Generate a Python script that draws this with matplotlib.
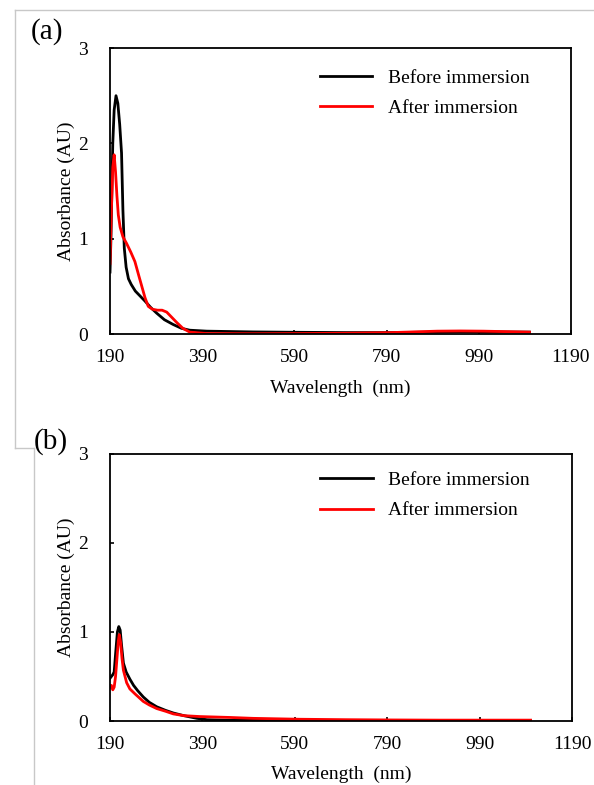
import matplotlib
matplotlib.use("Agg")
import matplotlib.pyplot as plt
from matplotlib.lines import Line2D

plt.rcParams['font.family'] = ['Liberation Serif', 'DejaVu Serif']

# panel (a)
wl_a_before = [190, 192, 196, 199, 203, 207, 211, 215, 218, 221, 225, 230, 236, 245, 255, 265, 278, 291, 308,
               327, 345, 363, 400, 500, 600, 700, 800, 900, 950, 1000, 1100]
abs_a_before = [0.65, 1.0, 2.0, 2.35, 2.5, 2.42, 2.2, 1.9, 1.3, 0.9, 0.7, 0.58, 0.52, 0.45, 0.4, 0.35, 0.28,
                0.22, 0.15, 0.1, 0.06, 0.04, 0.03, 0.022, 0.018, 0.015, 0.015, 0.02, 0.025, 0.022, 0.02]
wl_a_after = [190, 193, 196, 199, 202, 205, 208, 212, 218, 226, 235, 244, 252, 259, 266, 273, 282, 293, 303,
              313, 323, 335, 348, 363, 400, 500, 600, 700, 800, 900, 950, 1000, 1050, 1100]
abs_a_after = [0.74, 1.3, 1.75, 1.88, 1.7, 1.45, 1.25, 1.12, 1.02, 0.95, 0.86, 0.76, 0.62, 0.5, 0.38, 0.29,
               0.26, 0.25, 0.25, 0.23, 0.18, 0.12, 0.06, 0.02, 0.005, 0.003, 0.005, 0.008, 0.015, 0.03,
               0.032, 0.03, 0.025, 0.02]

# panel (b)
wl_b_before = [190, 193, 196, 199, 202, 206, 209, 212, 215, 219, 225, 233, 241, 250, 262, 275, 291, 310, 327,
               350, 378, 400, 450, 600, 800, 1100]
abs_b_before = [0.48, 0.5, 0.52, 0.55, 0.75, 1.0, 1.06, 1.02, 0.85, 0.65, 0.55, 0.47, 0.4, 0.34, 0.27, 0.21,
                0.16, 0.12, 0.09, 0.06, 0.03, 0.015, 0.008, 0.005, 0.004, 0.004]
wl_b_after = [190, 193, 196, 199, 202, 205, 208, 210, 213, 216, 219, 226, 233, 245, 262, 275, 291, 310, 327,
              350, 385, 450, 500, 600, 700, 800, 900, 1000, 1100]
abs_b_after = [0.38, 0.4, 0.35, 0.38, 0.5, 0.7, 0.9, 0.97, 0.88, 0.7, 0.57, 0.43, 0.36, 0.3, 0.22, 0.18, 0.14,
               0.11, 0.08, 0.06, 0.05, 0.04, 0.03, 0.02, 0.015, 0.012, 0.01, 0.01, 0.01]

xticks = [190, 390, 590, 790, 990, 1190]
yticks = [0, 1, 2, 3]

fig = plt.figure(figsize=(5.94, 7.85), dpi=100)

panels = [
    ([0.1852, 0.5745, 0.776, 0.3643], 0.927, 10, wl_a_before, abs_a_before, wl_a_after, abs_a_after),
    ([0.1852, 0.0815, 0.778, 0.3405], 0.933, 9, wl_b_before, abs_b_before, wl_b_after, abs_b_after),
]

for rect, leg_y, xpad, xb, yb, xa, ya in panels:
    ax = fig.add_axes(rect)
    ax.plot(xb, yb, color='black', lw=2.0, label='Before immersion')
    ax.plot(xa, ya, color='#ff0000', lw=2.0, label='After immersion')
    ax.set_xlim(190, 1190)
    ax.set_ylim(0, 3)
    ax.set_xticks(xticks)
    ax.set_yticks(yticks)
    ax.tick_params(direction='in', length=3, width=1.2, labelsize=14)
    ax.tick_params(axis='x', pad=11)
    ax.tick_params(axis='y', pad=16)
    for s in ax.spines.values():
        s.set_linewidth(1.3)
    ax.set_xlabel('Wavelength  (nm)', fontsize=14, labelpad=xpad)
    ax.set_ylabel('Absorbance (AU)', fontsize=14, labelpad=2)
    ax.legend(loc='upper left', frameon=False, fontsize=14, handlelength=2.7, handletextpad=0.8,
              borderaxespad=0, borderpad=0, labelspacing=0.65, bbox_to_anchor=(0.455, leg_y))

fig.text(0.079, 0.96, '(a)', fontsize=21, ha='center', va='center')
fig.text(0.086, 0.438, '(b)', fontsize=21, ha='center', va='center')

# light grey frame lines around the panels
grey = '#c8c8c8'
fig.add_artist(Line2D([0.025, 1.0], [0.987, 0.987], color=grey, lw=1.0, transform=fig.transFigure))
fig.add_artist(Line2D([0.025, 0.025], [0.987, 0.4293], color=grey, lw=1.0, transform=fig.transFigure))
fig.add_artist(Line2D([0.025, 0.057], [0.4293, 0.4293], color=grey, lw=1.0, transform=fig.transFigure))
fig.add_artist(Line2D([0.058, 0.058], [0.4293, 0.0], color=grey, lw=1.0, transform=fig.transFigure))

fig.savefig('out.png', dpi=100)
